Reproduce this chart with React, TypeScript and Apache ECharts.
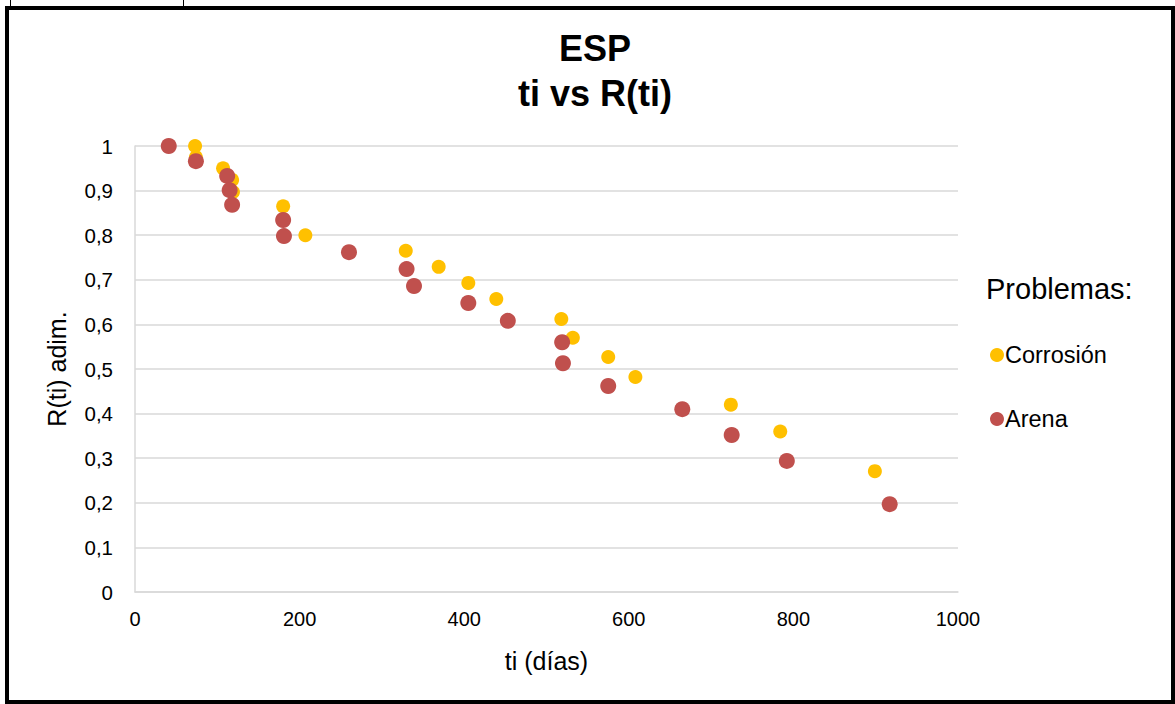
import React, { useEffect, useRef } from "react";
import * as echarts from "echarts";

const corrosionX = [73, 74, 107, 118, 119, 180, 207, 329, 369, 405, 439, 518, 532, 575, 608, 724, 784, 899];
const corrosionY = [1.0, 0.975, 0.95, 0.924, 0.897, 0.865, 0.8, 0.765, 0.729, 0.693, 0.657, 0.612, 0.57, 0.527, 0.482, 0.42, 0.36, 0.271];
const arenaX = [41, 74, 112, 115, 118, 180, 181, 260, 330, 339, 405, 453, 519, 520, 575, 665, 725, 792, 917];
const arenaY = [1.0, 0.966, 0.933, 0.901, 0.868, 0.834, 0.798, 0.762, 0.724, 0.686, 0.648, 0.608, 0.56, 0.513, 0.462, 0.41, 0.352, 0.294, 0.197];
const seriesNames = ["Corrosión", "Arena"];
const titleLines = ["ESP", "ti vs R(ti)"];

const FONT = "'Liberation Sans', Arial, sans-serif";

export default function App() {
  const ref = useRef<HTMLDivElement>(null);
  useEffect(() => {
    const chart = echarts.init(ref.current!, null, { renderer: "svg" });
    const pair = (xs: number[], ys: number[]) => xs.map((x, i) => [x, ys[i]]);
    chart.setOption({
      animation: false,
      backgroundColor: "#ffffff",
      textStyle: { fontFamily: FONT },
      title: {
        text: titleLines.join("\n"),
        left: 590,
        textAlign: "center",
        top: 21,
        textStyle: { fontSize: 36, fontWeight: "bold", color: "#000", lineHeight: 45, fontFamily: FONT },
      },
      grid: { left: 135, top: 146, width: 823, height: 446 },
      xAxis: {
        type: "value",
        min: 0,
        max: 1000,
        interval: 200,
        name: "ti (días)",
        nameLocation: "middle",
        nameGap: 56,
        nameTextStyle: { fontSize: 25, color: "#000", fontFamily: FONT },
        axisLine: { show: true, lineStyle: { color: "#d9d9d9", width: 1.5 } },
        axisTick: { show: false },
        splitLine: { show: false },
        axisLabel: {
          fontSize: 20,
          color: "#000",
          margin: 17,
          fontFamily: FONT,
          formatter: (v: number) => String(v),
        },
      },
      yAxis: {
        type: "value",
        min: 0,
        max: 1,
        interval: 0.1,
        name: "R(ti) adim.",
        nameLocation: "middle",
        nameGap: 66,
        nameTextStyle: { fontSize: 25, color: "#000", fontFamily: FONT },
        axisLine: { show: true, lineStyle: { color: "#d9d9d9", width: 1.5 } },
        axisTick: { show: false },
        splitLine: { show: true, lineStyle: { color: "#d9d9d9", width: 1.5 } },
        axisLabel: {
          fontSize: 20.5,
          color: "#000",
          margin: 22,
          fontFamily: FONT,
          formatter: (v: number) => String(Math.round(v * 10) / 10).replace(".", ","),
        },
      },
      legend: {
        orient: "vertical",
        left: 985,
        top: 338,
        itemGap: 40,
        icon: "circle",
        itemWidth: 14,
        itemHeight: 14,
        textStyle: { fontSize: 23.5, color: "#000", fontFamily: FONT, padding: [0, 0, 0, -4] },
        data: seriesNames,
      },
      graphic: [
        { type: "text", left: 986, top: 274, style: { text: "Problemas:", fontSize: 29, fill: "#000", fontFamily: FONT } },
        { type: "rect", shape: { x: 5, y: 6, width: 1170, height: 4 }, style: { fill: "#000" } },
        { type: "rect", shape: { x: 5, y: 6, width: 4, height: 698 }, style: { fill: "#000" } },
        { type: "rect", shape: { x: 1171, y: 6, width: 4, height: 698 }, style: { fill: "#000" } },
        { type: "rect", shape: { x: 5, y: 700, width: 1170, height: 4 }, style: { fill: "#000" } },
        { type: "rect", shape: { x: 10, y: 0, width: 1, height: 6 }, style: { fill: "#000" } },
        { type: "rect", shape: { x: 183, y: 0, width: 1, height: 6 }, style: { fill: "#000" } },
      ],
      series: [
        {
          name: seriesNames[0],
          type: "scatter",
          symbol: "circle",
          symbolSize: 14,
          itemStyle: { color: "#FFC000", opacity: 1 },
          data: pair(corrosionX, corrosionY),
          z: 2,
        },
        {
          name: seriesNames[1],
          type: "scatter",
          symbol: "circle",
          symbolSize: 16,
          itemStyle: { color: "#C0504D", opacity: 1 },
          data: pair(arenaX, arenaY),
          z: 3,
        },
      ],
    });
    return () => chart.dispose();
  }, []);
  return (
    <div
      ref={ref}
      style={{ position: "absolute", left: 0, top: 0, width: 1175, height: 704, background: "#fff" }}
    />
  );
}
